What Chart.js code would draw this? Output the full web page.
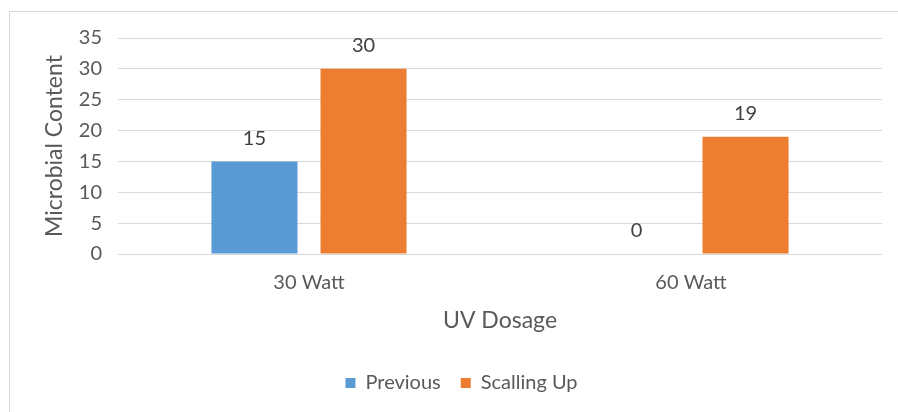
<!DOCTYPE html>
<html>
<head>
<meta charset="utf-8">
<script src="https://cdn.jsdelivr.net/npm/chart.js@4.4.1/dist/chart.umd.min.js"></script>
<style>
  html, body { margin: 0; padding: 0; background: #fff; }
  #wrap { position: relative; width: 898px; height: 412px; }
</style>
</head>
<body>
<div id="wrap"><canvas id="c" width="898" height="412"></canvas></div>
<script>
const categories = ["30 Watt", "60 Watt"];
const previousValues = [15, 0];
const scallingUpValues = [30, 19];
const yTicks = [0, 5, 10, 15, 20, 25, 30, 35];

const FONT = "Lato, 'Open Sans', sans-serif";

const borderPlugin = {
  id: 'outerBorder',
  beforeDraw(chart) {
    const ctx = chart.ctx;
    ctx.save();
    ctx.fillStyle = '#fff';
    ctx.fillRect(0, 0, chart.width, chart.height);
    ctx.strokeStyle = '#d9d9d9';
    ctx.lineWidth = 1;
    ctx.strokeRect(9.5, 11.5, 1000, 1000);
    ctx.restore();
  }
};

const labelPlugin = {
  id: 'valueLabels',
  afterDatasetsDraw(chart) {
    const ctx = chart.ctx;
    ctx.save();
    ctx.font = "20px " + FONT;
    ctx.fillStyle = '#404040';
    ctx.textAlign = 'center';
    ctx.textBaseline = 'middle';
    chart.data.datasets.forEach((ds, i) => {
      chart.getDatasetMeta(i).data.forEach((bar, j) => {
        ctx.fillText(String(ds.data[j]), bar.x, bar.y - 23);
      });
    });
    ctx.restore();
  }
};

new Chart(document.getElementById('c'), {
  type: 'bar',
  data: {
    labels: categories,
    datasets: [
      { label: 'Previous', data: previousValues, backgroundColor: '#5b9bd5',
        categoryPercentage: 0.571, barPercentage: 0.789 },
      { label: 'Scalling Up', data: scallingUpValues, backgroundColor: '#ed7d31',
        categoryPercentage: 0.571, barPercentage: 0.789 }
    ]
  },
  options: {
    responsive: false,
    animation: false,
    layout: { padding: { top: 38, right: 16, left: 41, bottom: 9 } },
    plugins: {
      tooltip: { enabled: false },
      legend: {
        position: 'bottom',
        labels: {
          font: { family: FONT, size: 20 },
          color: '#595959',
          boxWidth: 10, boxHeight: 10,
          padding: 20
        }
      }
    },
    scales: {
      x: {
        grid: { display: false, drawTicks: false },
        border: { display: false },
        ticks: { font: { family: FONT, size: 20 }, color: '#595959', padding: 17 },
        title: { display: true, text: 'UV Dosage', font: { family: FONT, size: 23 }, color: '#595959', padding: { top: 0, bottom: 19 } },
        afterFit(scale) { scale.height = 99; }
      },
      y: {
        min: 0, max: 35,
        afterBuildTicks(scale) { scale.ticks = yTicks.map(v => ({ value: v })); },
        grid: { color: '#d9d9d9', lineWidth: 1, drawTicks: false },
        border: { display: false },
        ticks: { font: { family: FONT, size: 20 }, color: '#595959', padding: 16 },
        title: { display: true, text: 'Microbial Content', font: { family: FONT, size: 23 }, color: '#595959', padding: 0 },
        afterFit(scale) { scale.width = 77; }
      }
    }
  },
  plugins: [borderPlugin, labelPlugin]
});
</script>
</body>
</html>
